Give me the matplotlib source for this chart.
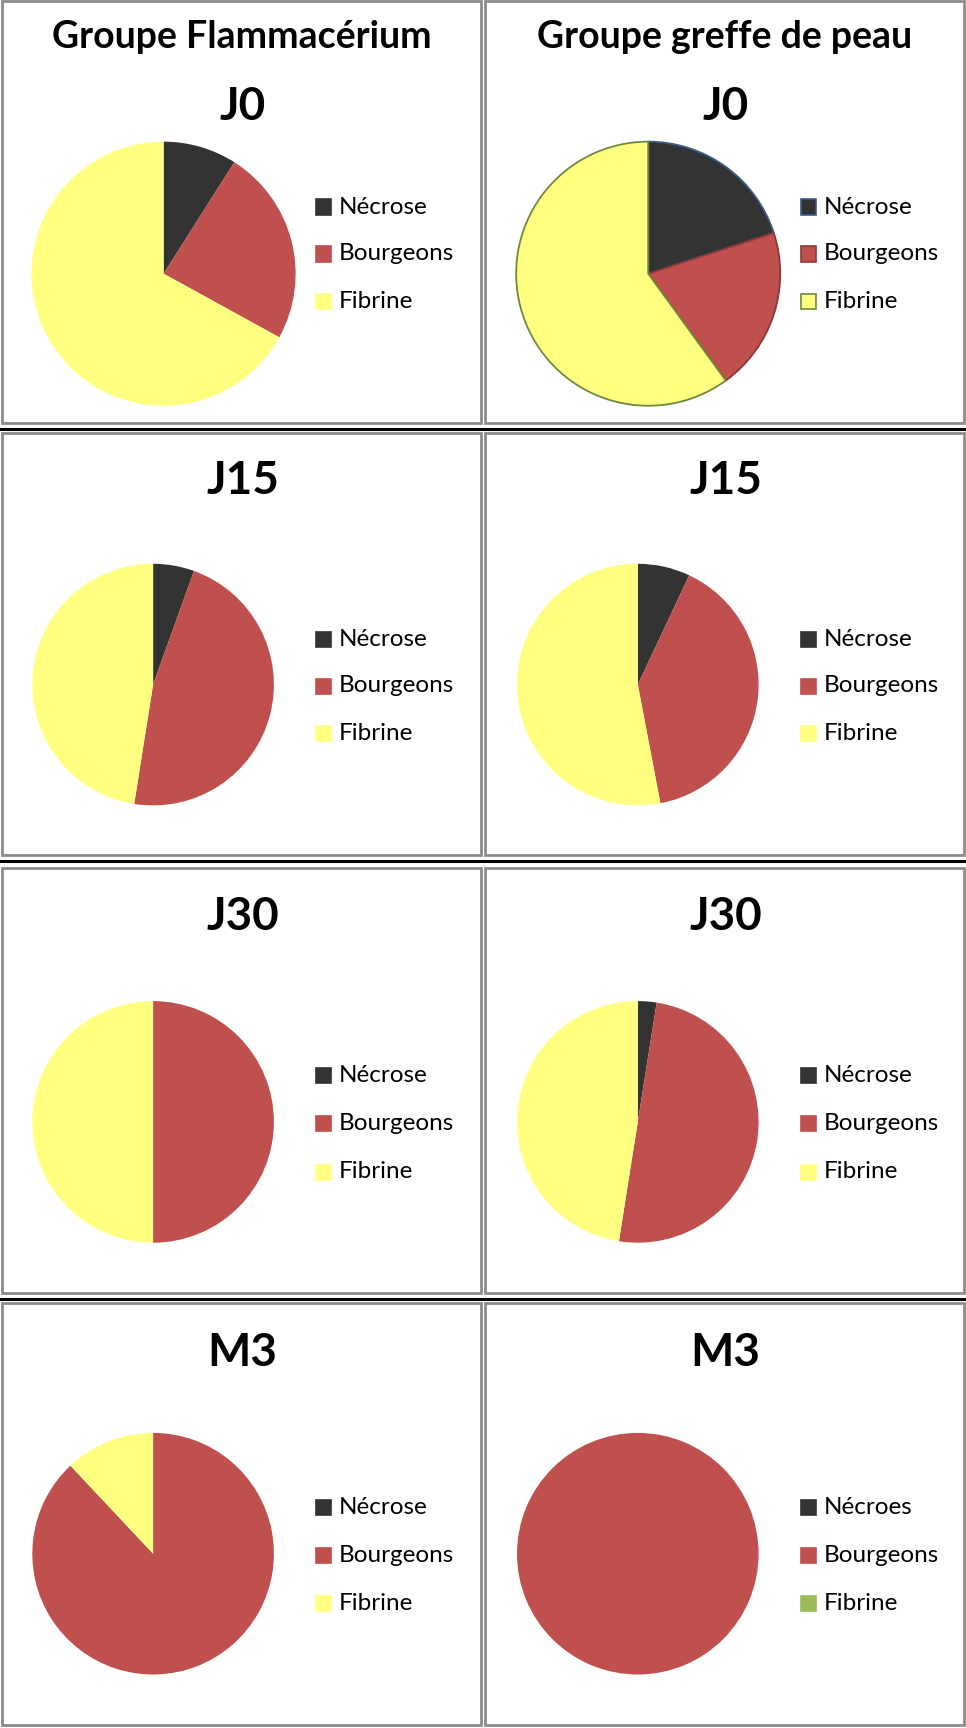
import matplotlib
matplotlib.use("Agg")
import matplotlib.pyplot as plt
from matplotlib.patches import Rectangle
from matplotlib.lines import Line2D

# ── Data ──────────────────────────────────────────────────────────────────────
GROUPS = ["Groupe Flammacérium", "Groupe greffe de peau"]
STAGES = ["J0", "J15", "J30", "M3"]
CATEGORIES = ["Nécrose", "Bourgeons", "Fibrine"]

FLAMMA = [
    [9, 24, 67],      # J0
    [5.5, 47, 47.5],  # J15
    [0, 50, 50],      # J30
    [0, 88, 12],      # M3
]
GREFFE = [
    [20, 20, 60],     # J0
    [7, 40, 53],      # J15
    [2.5, 50, 47.5],  # J30
    [0, 100, 0],      # M3
]
# the last legend in the reference has a typo and a green swatch
GREFFE_M3_LABELS = ["Nécroes", "Bourgeons", "Fibrine"]

COLORS = ["#333333", "#C0504D", "#FFFF80"]
EDGES_J0_GREFFE = ["#385D8A", "#8C3836", "#71893F"]

# ── Layout (pixels of a 966x1728 canvas) ─────────────────────────────────────
W, H = 966, 1728
fig = plt.figure(figsize=(W / 100, H / 100), dpi=100)
FONT = ["Lato", "DejaVu Sans"]


def fx(x):
    return x / W


def fy(y):
    return 1 - y / H


ROW_TOP = [1, 433, 868, 1303]
ROW_BOT = [423, 855, 1293, 1725]
COL_LEFT = [2, 485]
COL_RIGHT = [481, 964]
SEPARATORS = [429, 861, 1299]

PIE_CY = [273.7, 684.6, 1121.9, 1553.7]
PIE_R = [132.7, 121.4, 121.4, 121.4]
PIE_CX = [[163.6, 648.2], [153.1, 637.8], [153.1, 637.8], [153.1, 637.8]]
LEG_Y = [[207, 254, 301.5], [639, 686, 733.5], [1075, 1123, 1172], [1507, 1555, 1603.5]]
STAGE_Y = [107, 481, 917, 1353]

# cell frames
for r in range(4):
    for c in range(2):
        x0, x1 = COL_LEFT[c], COL_RIGHT[c]
        y0, y1 = ROW_TOP[r], ROW_BOT[r]
        fig.patches.append(Rectangle((fx(x0), fy(y1)), fx(x1 - x0), (y1 - y0) / H,
                                     transform=fig.transFigure, fill=False,
                                     edgecolor="#8c8c8c", linewidth=2.0))
for y in SEPARATORS:
    fig.lines.append(Line2D([0, 1], [fy(y), fy(y)], transform=fig.transFigure,
                            color="black", linewidth=2.2))

# group headers
for c, g in enumerate(GROUPS):
    cx = (COL_LEFT[c] + COL_RIGHT[c]) / 2
    fig.text(fx(cx), fy(37), g, ha="center", va="center",
             fontsize=27, fontweight="bold", family=FONT)

for r, stage in enumerate(STAGES):
    for c, data in enumerate([FLAMMA, GREFFE]):
        vals = data[r]
        cx, cy, rad = PIE_CX[r][c], PIE_CY[r], PIE_R[r]
        cell_cx = (COL_LEFT[c] + COL_RIGHT[c]) / 2

        fig.text(fx(cell_cx + 1), fy(STAGE_Y[r]), stage, ha="center", va="center",
                 fontsize=33, fontweight="bold", family=FONT)

        ax = fig.add_axes([fx(cx - rad), fy(cy + rad), 2 * rad / W, 2 * rad / H])
        edged = (r == 0 and c == 1)
        wedges, _ = ax.pie(vals, colors=COLORS, startangle=90, counterclock=False,
                           radius=1, wedgeprops=dict(linewidth=0))
        if edged:
            for w, ec in zip(wedges, EDGES_J0_GREFFE):
                w.set_edgecolor(ec)
                w.set_linewidth(1.3)
        ax.set_xlim(-1.005, 1.005)
        ax.set_ylim(-1.005, 1.005)
        ax.set_aspect("equal")
        ax.axis("off")

        # legend
        labels = GREFFE_M3_LABELS if (r == 3 and c == 1) else CATEGORIES
        swatches = list(COLORS)
        if r == 3 and c == 1:
            swatches[2] = "#9BBB59"
        x_mark = COL_LEFT[c] + 316 - (2 if c == 0 else 0)
        for k, (lab, col) in enumerate(zip(labels, swatches)):
            ly = LEG_Y[r][k]
            ec = EDGES_J0_GREFFE[k] if edged else col
            fig.patches.append(Rectangle((fx(x_mark), fy(ly + 7.5)), 15 / W, 15 / H,
                                         transform=fig.transFigure, facecolor=col,
                                         edgecolor=ec, linewidth=1.2))
            fig.text(fx(x_mark + 23), fy(ly), lab, ha="left", va="center",
                     fontsize=17.5, family=FONT)

fig.savefig("out.png", dpi=100, facecolor="white")
